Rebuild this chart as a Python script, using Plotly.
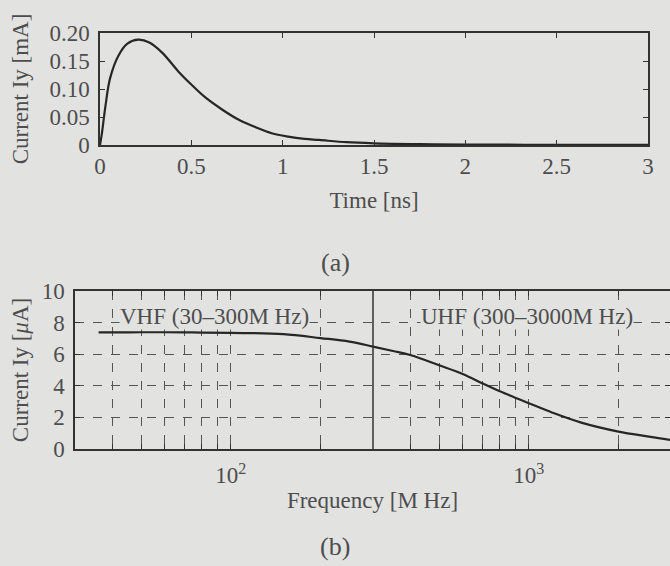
import plotly.graph_objects as go
import math

# ---- data (a): transient current ----
time_ns = [0, 0.01, 0.03, 0.055, 0.1, 0.15, 0.21, 0.27, 0.34, 0.43, 0.5, 0.58, 0.67,
           0.76, 0.85, 0.94, 1.03, 1.12, 1.2, 1.35, 1.5, 1.75, 2.0, 2.5, 3.0]
current_mA = [0, 0.02, 0.07, 0.119, 0.159, 0.181, 0.188, 0.183, 0.165, 0.131, 0.108,
              0.084, 0.063, 0.045, 0.032, 0.021, 0.015, 0.011, 0.009, 0.005, 0.003,
              0.0015, 0.0008, 0.0003, 0.0001]
time_ticks = [0, 0.5, 1, 1.5, 2, 2.5, 3]
time_ticktext = ["0", "0.5", "1", "1.5", "2", "2.5", "3"]
cur_ticks = [0, 0.05, 0.10, 0.15, 0.20]
cur_ticktext = ["0", "0.05", "0.10", "0.15", "0.20"]

# ---- data (b): frequency spectrum ----
freq_MHz = [36, 40, 50, 60, 70, 80, 100, 150, 200, 250, 300, 350, 400, 500, 600, 700,
            800, 900, 1000, 1200, 1500, 2000, 2500, 3000]
current_uA = [7.38, 7.38, 7.39, 7.39, 7.38, 7.37, 7.35, 7.27, 7.02, 6.8, 6.48, 6.2,
              5.95, 5.3, 4.75, 4.15, 3.65, 3.25, 2.9, 2.3, 1.67, 1.1, 0.8, 0.57]
freq_major = [100, 1000]
freq_major_text = ["10<sup>2</sup>", "10<sup>3</sup>"]
freq_minor = [40, 50, 60, 70, 80, 90, 200, 400, 500, 600, 700, 800, 900, 2000]
freq_range = [30, 2977]
band_edge_MHz = 300
band_labels = ["VHF (30–300M Hz)", "UHF (300–3000M Hz)"]
band_label_x = [88, 985]
band_label_y = 7.55
cur2_ticks = [0, 2, 4, 6, 8, 10]

BG = "#e2e3e1"
INK = "#262626"
TXT = "#4d4d4d"
FONT = "Liberation Serif"
FS = 23

fig = go.Figure()
fig.add_trace(go.Scatter(x=time_ns, y=current_mA, mode="lines", line=dict(color=INK, width=2.2, shape="spline"),
                         xaxis="x", yaxis="y", showlegend=False))
fig.add_trace(go.Scatter(x=freq_MHz, y=current_uA, mode="lines", line=dict(color=INK, width=2.2, shape="spline"),
                         xaxis="x2", yaxis="y2", showlegend=False))

W, H = 670, 566
def px_x(a, b):
    return [a / W, b / W]
def px_y(top, bottom):
    return [1 - bottom / H, 1 - top / H]

axis_common = dict(showline=True, linecolor="#333333", linewidth=1.5, mirror="allticks",
                   ticks="inside", tickcolor="#333333", ticklen=5, tickwidth=1.2, automargin=False,
                   tickfont=dict(family=FONT, size=FS, color=TXT), zeroline=False)
title_font = dict(family=FONT, size=FS, color=TXT)
grid_style = dict(gridcolor="#555555", griddash="dash", gridwidth=1)

fig.update_layout(
    width=W, height=H, margin=dict(l=0, r=0, t=0, b=0, autoexpand=False),
    paper_bgcolor=BG, plot_bgcolor=BG,
    font=dict(family=FONT, color=TXT),
    xaxis=dict(domain=px_x(100, 648), anchor="y", range=[0, 3], tickvals=time_ticks,
               ticktext=time_ticktext, showgrid=False,
               title=dict(text="Time [ns]", font=title_font, standoff=14),
               **axis_common),
    yaxis=dict(domain=px_y(33, 145), anchor="x", range=[0, 0.2], tickvals=cur_ticks,
               ticktext=cur_ticktext, showgrid=False, ticklabelstandoff=4,
               title=dict(text="Current Iy [mA]", font=title_font, standoff=14),
               **axis_common),
    xaxis2=dict(domain=px_x(75, 670), anchor="y2", type="log",
                range=[math.log10(freq_range[0]), math.log10(freq_range[1])],
                tickvals=freq_major, ticktext=freq_major_text, ticklabelstandoff=5,
                showgrid=True, **grid_style,
                minor=dict(tickvals=freq_minor, ticks="inside", ticklen=5, tickcolor="#333333",
                           showgrid=True, **grid_style),
                title=dict(text="Frequency [M Hz]", font=title_font, standoff=5),
                **axis_common),
    yaxis2=dict(domain=px_y(291, 449), anchor="x2", range=[0, 10], tickvals=cur2_ticks,
                showgrid=True, **grid_style, ticklabelstandoff=4,
                title=dict(text="Current Iy [<i>μ</i>A]", font=title_font, standoff=7),
                **axis_common),
)

# solid line marking VHF/UHF boundary
fig.add_shape(type="line", xref="x2", yref="y2 domain", x0=band_edge_MHz, x1=band_edge_MHz,
              y0=0, y1=1, line=dict(color="#333333", width=1.5))

for txt, xv in zip(band_labels, band_label_x):
    fig.add_annotation(x=math.log10(xv), y=band_label_y, xref="x2", yref="y2", text=txt,
                       yanchor="bottom", showarrow=False, bgcolor=BG, borderpad=0,
                       font=dict(family=FONT, size=FS, color=TXT))

fig.add_annotation(x=335 / W, y=1 - 262 / H, xref="paper", yref="paper", text="(a)", showarrow=False,
                   font=dict(family=FONT, size=26, color=TXT))
fig.add_annotation(x=335 / W, y=0, yshift=3, xref="paper", yref="paper", text="(b)", showarrow=False,
                   yanchor="bottom", font=dict(family=FONT, size=26, color=TXT))

fig.write_html("out.html", config={"displayModeBar": False},
               post_script="document.body.style.margin='0px';"
                           "document.body.style.background='" + BG + "';"
                           "document.body.style.overflow='hidden';")
